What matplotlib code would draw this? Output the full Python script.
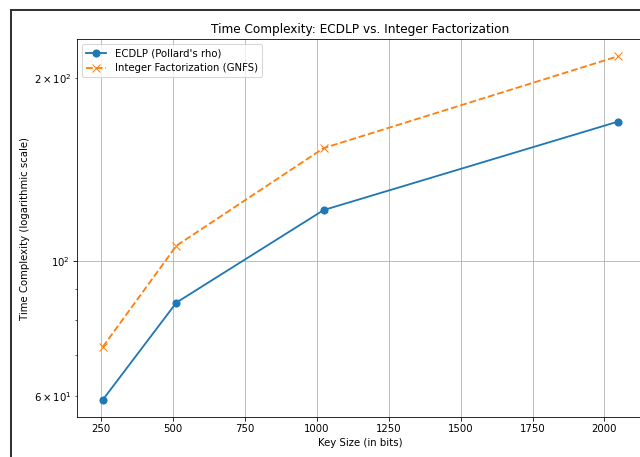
# %% Imports:
import matplotlib.pyplot as plt
from matplotlib.lines import Line2D

# Data:
key_sizes = [256, 512, 1024, 2048]
ecdlp = [59.2, 85.5, 121.3, 169.5]
gnfs = [72.3, 106.0, 153.3, 217.0]

# %% Plotting:
dpi = 73
plt.close('all')
fig = plt.figure(figsize=(641/dpi, 457/dpi), dpi=dpi)
ax = fig.add_axes([77/641, 1 - 417/457, (644 - 77)/641, (417 - 39)/457])

ax.plot(key_sizes, ecdlp, marker='o', markersize=7, linewidth=1.8,
        label="ECDLP (Pollard's rho)")
ax.plot(key_sizes, gnfs, marker='x', markersize=7, linewidth=1.8, linestyle='--',
        label='Integer Factorization (GNFS)')
ax.set_yscale('log')
ax.set_title('Time Complexity: ECDLP vs. Integer Factorization')
ax.set_xlabel('Key Size (in bits)')
ax.set_ylabel('Time Complexity (logarithmic scale)')
ax.grid(True)
ax.legend(loc='upper left')

# screenshot frame
fig.add_artist(Line2D([11/641, 11/641], [0, 1 - 10/457], color='#333333', lw=2))
fig.add_artist(Line2D([11/641, 1], [1 - 10/457, 1 - 10/457], color='#333333', lw=2))

plt.savefig('out.png', dpi=dpi)
